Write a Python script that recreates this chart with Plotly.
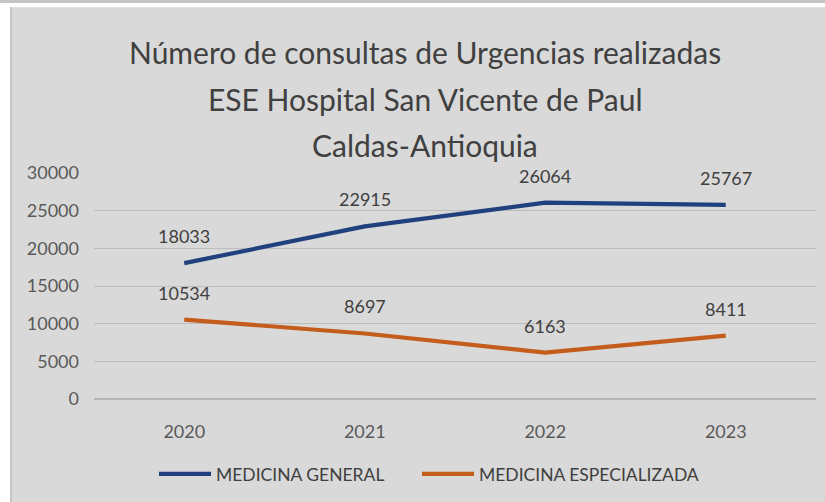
import plotly.graph_objects as go

years = ["2020", "2021", "2022", "2023"]
medicina_general = [18033, 22915, 26064, 25767]
medicina_especializada = [10534, 8697, 6163, 8411]
series_names = ["MEDICINA GENERAL", "MEDICINA ESPECIALIZADA"]
series_colors = ["#21407e", "#c45c1c"]
title_lines = ["Número de consultas de Urgencias realizadas",
               "ESE Hospital San Vicente de Paul",
               "Caldas-Antioquia"]
y_ticks = [0, 5000, 10000, 15000, 20000, 25000, 30000]

W, H = 825, 502
L, R, T, B = 94, 816, 173, 399.5


def px(x):
    return (x - L) / (R - L)


def py(y):
    return (B - y) / (B - T)


fig = go.Figure()
legend_ids = ["legend", "legend2"]
for name, vals, col, lg in zip(series_names, [medicina_general, medicina_especializada],
                               series_colors, legend_ids):
    fig.add_trace(go.Scatter(x=years, y=vals, mode="lines", name=name, legend=lg,
                             line=dict(color=col, width=4.2)))

annotations = []
for vals in [medicina_general, medicina_especializada]:
    for i, v in enumerate(vals):
        annotations.append(dict(x=i, y=v, xref="x", yref="y", text=str(v), showarrow=False,
                                yshift=27,
                                font=dict(family="Lato", size=18, color="#404040")))

title_y = [52, 99, 145]
for t, yy in zip(title_lines, title_y):
    annotations.append(dict(x=px(425), y=py(yy), xref="paper", yref="paper", text=t,
                            showarrow=False, xanchor="center", yanchor="middle",
                            font=dict(family="Lato", size=30, color="#404040")))

shapes = [
    dict(type="rect", xref="paper", yref="paper", x0=px(-5), x1=px(10), y0=py(-5), y1=py(510),
         fillcolor="white", line=dict(width=0), layer="below"),
    dict(type="rect", xref="paper", yref="paper", x0=px(-5), x1=px(830), y0=py(2.5), y1=py(7),
         fillcolor="white", line=dict(width=0), layer="below"),
    dict(type="rect", xref="paper", yref="paper", x0=px(-5), x1=px(830), y0=py(-5), y1=py(2.5),
         fillcolor="#c4c4c4", line=dict(width=0), layer="below"),
    dict(type="line", xref="paper", yref="paper", x0=px(11), x1=px(11), y0=py(7), y1=py(510),
         line=dict(color="#c6c6c6", width=2), layer="below"),
]

legend_common = dict(orientation="h", xref="container", yref="container",
                     y=1 - 474 / H, xanchor="left", yanchor="middle",
                     font=dict(family="Lato", size=17.5, color="#404040"),
                     bgcolor="rgba(0,0,0,0)", itemwidth=52)

fig.update_layout(
    width=W, height=H,
    margin=dict(l=L, r=W - R, t=T, b=H - B, pad=0),
    paper_bgcolor="#d9d9d9", plot_bgcolor="rgba(0,0,0,0)",
    annotations=annotations, shapes=shapes,
    showlegend=True,
    legend=dict(x=154 / W, **legend_common),
    legend2=dict(x=417 / W, **legend_common),
    xaxis=dict(type="category", range=[-0.5, 3.5], showgrid=False, zeroline=False,
               showline=False, ticks="", ticklabelstandoff=20,
               tickfont=dict(family="Lato", size=18, color="#595959")),
    yaxis=dict(range=[0, 30000], tickvals=y_ticks, tickformat="d", showgrid=True,
               gridcolor="#bdbdbd", gridwidth=1, zeroline=True, zerolinecolor="#b5b5b5",
               zerolinewidth=1.5, showline=False, ticks="", ticklabelstandoff=14,
               tickfont=dict(family="Lato", size=18, color="#595959")),
)

fig.write_html("out.html", config={"displayModeBar": False},
               post_script="document.body.style.margin='0';"
                           "document.body.style.overflow='hidden';"
                           "document.body.style.background='#d9d9d9';")
